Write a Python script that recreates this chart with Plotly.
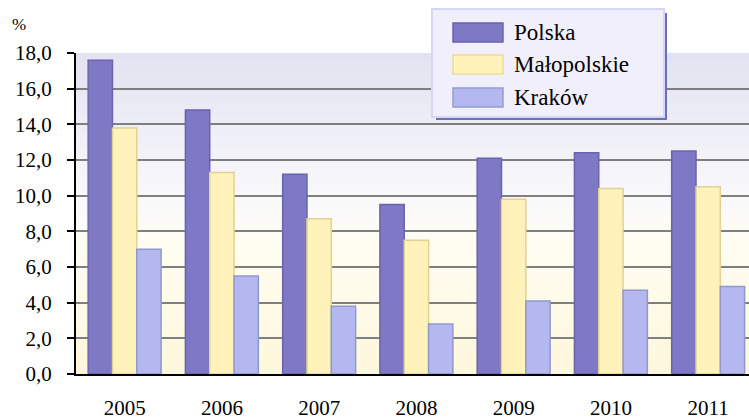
import plotly.graph_objects as go

years = ["2005", "2006", "2007", "2008", "2009", "2010", "2011"]
polska = [17.6, 14.8, 11.2, 9.5, 12.1, 12.4, 12.5]
malopolskie = [13.8, 11.3, 8.7, 7.5, 9.8, 10.4, 10.5]
krakow = [7.0, 5.5, 3.8, 2.8, 4.1, 4.7, 4.9]
series_names = ["Polska", "Małopolskie", "Kraków"]
y_ticks = [0, 2, 4, 6, 8, 10, 12, 14, 16, 18]

W, H = 749, 419
ML, MR, MT, MB = 76, 0, 53, 45
PW, PH = W - ML - MR, H - MT - MB

FONT = "Liberation Serif"

fills = ["#7F78C4", "#FFF2BB", "#B5B8F0"]
lines = ["#6A63AE", "#E2D192", "#8E9ACC"]
swatch_lines = ["#6A63AE", "#F0DC98", "#8EA0D0"]

fig = go.Figure()
for i, (name, vals) in enumerate(zip(series_names, [polska, malopolskie, krakow])):
    fig.add_trace(go.Bar(
        x=years, y=vals, name=name,
        marker=dict(color=fills[i], line=dict(color=lines[i], width=1.5)),
    ))

def px_to_paper_x(px):
    return (px - ML) / PW

def px_to_paper_y(py):
    return (H - MB - py) / PH

shapes = []
# background gradient within plot area
stops = [(0.0, (0xE2, 0xE2, 0xF1)), (0.45, (0xF9, 0xF9, 0xFC)), (0.6, (0xFF, 0xFD, 0xF2)), (1.0, (0xFF, 0xF7, 0xDC))]
def col_at(t):
    for (t0, c0), (t1, c1) in zip(stops[:-1], stops[1:]):
        if t0 <= t <= t1:
            f = (t - t0) / (t1 - t0)
            return "rgb(%d,%d,%d)" % tuple(round(a + (b - a) * f) for a, b in zip(c0, c1))
    return "rgb(%d,%d,%d)" % stops[-1][1]
N = 80
for k in range(N):
    t = (k + 0.5) / N
    shapes.append(dict(type="rect", xref="paper", yref="paper",
                       x0=0, x1=1, y0=1 - k / N, y1=max(0, 1 - (k + 1) / N - 0.002),
                       fillcolor=col_at(t), line=dict(width=0), layer="below"))
# legend box shadow and box
shapes.append(dict(type="rect", xref="paper", yref="paper",
                   x0=px_to_paper_x(436), x1=px_to_paper_x(667),
                   y0=px_to_paper_y(120), y1=px_to_paper_y(13),
                   fillcolor="#6E6EB2", line=dict(width=0), layer="above"))
shapes.append(dict(type="rect", xref="paper", yref="paper",
                   x0=px_to_paper_x(432), x1=px_to_paper_x(664),
                   y0=px_to_paper_y(117), y1=px_to_paper_y(9),
                   fillcolor="#F1EFFC", line=dict(color="#D6D6F8", width=2), layer="above"))

annotations = [dict(text="%", x=px_to_paper_x(19), y=px_to_paper_y(25),
                    xref="paper", yref="paper", showarrow=False,
                    xanchor="center", yanchor="middle",
                    font=dict(family=FONT, size=17, color="black"))]

# custom legend entries
legend_rows = [32.5, 64.5, 97.5]
for i, name in enumerate(series_names):
    cy = legend_rows[i]
    shapes.append(dict(type="rect", xref="paper", yref="paper",
                       x0=px_to_paper_x(453), x1=px_to_paper_x(503),
                       y0=px_to_paper_y(cy + 9.5), y1=px_to_paper_y(cy - 9.5),
                       fillcolor=fills[i], line=dict(color=swatch_lines[i], width=1.5),
                       layer="above"))
    annotations.append(dict(text=name, x=px_to_paper_x(512), y=px_to_paper_y(cy),
                            xref="paper", yref="paper", showarrow=False,
                            xanchor="left", yanchor="middle",
                            font=dict(family=FONT, size=23, color="black")))

fig.update_layout(
    width=W, height=H,
    margin=dict(l=ML, r=MR, t=MT, b=MB),
    paper_bgcolor="white", plot_bgcolor="white",
    font=dict(family=FONT, size=21, color="black"),
    separators=", ",
    barmode="group", bargap=0.25, bargroupgap=0,
    shapes=shapes,
    showlegend=False,
    annotations=annotations,
)

fig.update_xaxes(
    type="category", range=[-0.5, 6.42], automargin=False,
    showline=True, linecolor="black", linewidth=2,
    ticks="", ticklabelstandoff=14, showgrid=False,
    tickfont=dict(family=FONT, size=21),
)
fig.update_yaxes(
    range=[0, 18], tickvals=y_ticks, tickformat=".1f", automargin=False,
    showline=True, linecolor="black", linewidth=2,
    ticks="outside", ticklen=7, tickcolor="black", tickwidth=1.5,
    ticklabelstandoff=11,
    showgrid=True, gridcolor="#7F7F7F", gridwidth=1.5,
    zeroline=False,
    tickfont=dict(family=FONT, size=21),
)

fig.write_html("out.html", post_script="document.body.style.margin='0';",
               config={"displayModeBar": False})
